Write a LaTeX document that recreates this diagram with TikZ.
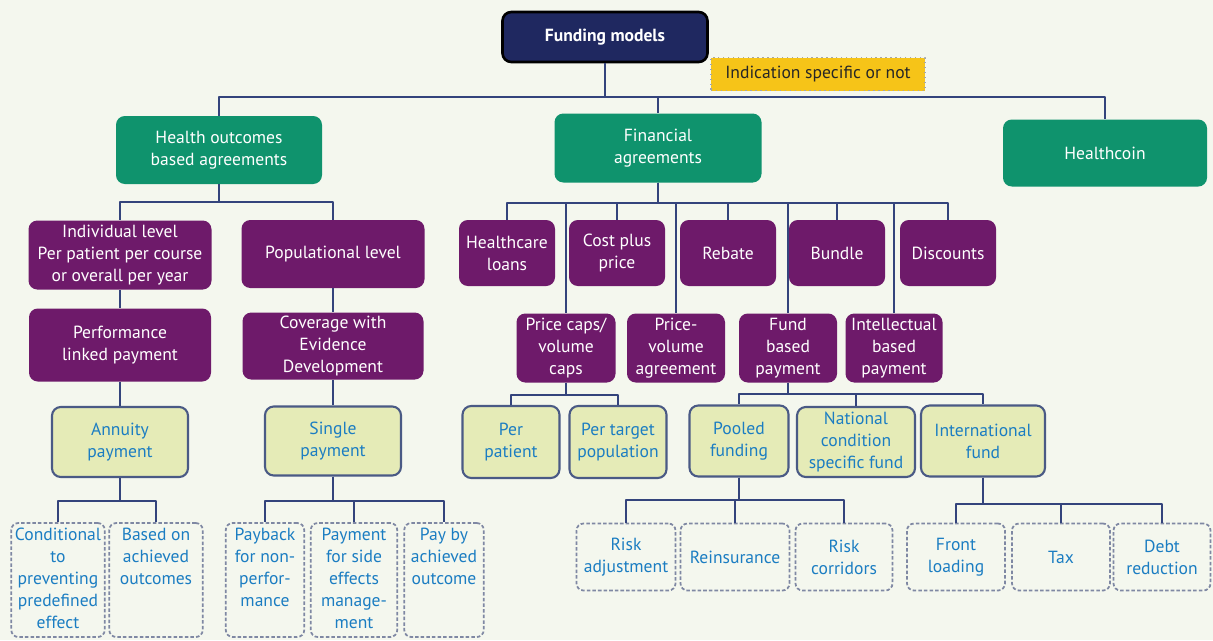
\documentclass[tikz,border=0pt]{standalone}
\usepackage{fontspec}
\setmainfont{PT Sans}
\definecolor{bgcol}{RGB}{244,247,238}
\definecolor{navy}{RGB}{31,40,96}
\definecolor{linkcol}{RGB}{52,68,124}
\definecolor{greenbox}{RGB}{15,147,109}
\definecolor{purplebox}{RGB}{110,26,106}
\definecolor{payfill}{RGB}{229,235,183}
\definecolor{payline}{RGB}{74,90,133}
\definecolor{bluetext}{RGB}{27,125,194}
\definecolor{leafline}{RGB}{127,136,163}
\definecolor{notefill}{RGB}{246,196,24}
\newcommand{\toptxt}[2]{\parbox[c][2.08cm][t]{#1}{\centering #2}}
\tikzset{
	box/.style={rounded corners=5pt, align=center, inner sep=2pt},
	boxsize/.style 2 args={minimum width=#1*0.02cm, minimum height=#2*0.02cm},
	fundbox/.style={box, fill=navy, draw=black, line width=1.5pt, text=white, font=\bfseries},
	notebox/.style={fill=notefill, draw=gray!70, dotted, line width=0.8pt, text=black!85, inner sep=2pt},
	groupbox/.style={box, fill=greenbox, text=white},
	typebox/.style={box, fill=purplebox, text=white},
	paybox/.style={box, fill=payfill, draw=payline, line width=1.2pt, text=bluetext},
	leafbox/.style={box, rounded corners=4pt, draw=leafline, line width=1pt, dash pattern=on 2pt off 1.2pt, text=bluetext, inner sep=1pt},
	link/.style={draw=linkcol, line width=1.2pt}
}
\begin{document}
\begin{tikzpicture}[x=0.02cm, y=-0.02cm, font=\fontsize{10}{12.5}\selectfont, line join=round]
	\fill[bgcol] (0,0) rectangle (1213,640);
	\useasboundingbox (0,0) rectangle (1213,640);
	% top
	\node[fundbox, boxsize={205}{50}] (fund) at (605,37) {Funding models};
	\node[notebox, boxsize={214}{33}] (note) at (818,74) {Indication specific or not};
	\node[groupbox, boxsize={206}{68}] (health) at (219,150) {Health outcomes\\based agreements};
	\node[groupbox, boxsize={207}{69}] (fin) at (658,148) {Financial\\agreements};
	\node[groupbox, boxsize={204}{67}] (coin) at (1105,153) {Healthcoin};
	% health outcomes branch
	\node[typebox, boxsize={183}{69}] (indiv) at (120,255) {Individual level\\Per patient per course\\or overall per year};
	\node[typebox, boxsize={183}{68}] (popul) at (333,254) {Populational level};
	\node[typebox, boxsize={182}{73}] (perf) at (120,345) {Performance\\linked payment};
	\node[typebox, boxsize={181}{67}] (cov) at (333,346) {Coverage with\\Evidence\\Development};
	\node[paybox, boxsize={136}{70}] (annuity) at (120,442) {Annuity\\payment};
	\node[paybox, boxsize={136}{69}] (single) at (333,441) {Single\\payment};
	\node[leafbox, boxsize={93}{114}] (cond) at (58,580) {\toptxt{1.8cm}{Conditional\\to\\preventing\\predefined\\effect}};
	\node[leafbox, boxsize={93}{114}] (based) at (156,580) {\toptxt{1.8cm}{Based on\\achieved\\outcomes}};
	\node[leafbox, boxsize={78}{114}] (payback) at (265,580) {\toptxt{1.5cm}{Payback\\for non-\\perfor-\\mance}};
	\node[leafbox, boxsize={86}{114}] (sidefx) at (354,580) {\toptxt{1.66cm}{Payment\\for side\\effects\\manage-\\ment}};
	\node[leafbox, boxsize={79}{114}] (payby) at (444,580) {\toptxt{1.52cm}{Pay by\\achieved\\outcome}};
	% financial branch
	\node[typebox, boxsize={96}{66}] (loans) at (507,253) {Healthcare\\loans};
	\node[typebox, boxsize={96}{66}] (costplus) at (617,253) {Cost plus\\price};
	\node[typebox, boxsize={96}{66}] (rebate) at (728,253) {Rebate};
	\node[typebox, boxsize={96}{66}] (bundle) at (837,253) {Bundle};
	\node[typebox, boxsize={96}{66}] (discount) at (948,253) {Discounts};
	\node[typebox, boxsize={99}{69}] (pricecap) at (566,348) {Price caps/\\volume\\caps};
	\node[typebox, boxsize={98}{69}] (pricevol) at (676,348) {Price-\\volume\\agreement};
	\node[typebox, boxsize={98}{69}] (fundpay) at (788,348) {Fund\\based\\payment};
	\node[typebox, boxsize={97}{69}] (intel) at (894,348) {Intellectual\\based\\payment};
	\node[paybox, boxsize={97}{72}] (perpat) at (511,442) {Per\\patient};
	\node[paybox, boxsize={97}{72}] (pertarget) at (618,442) {Per target\\population};
	\node[paybox, boxsize={99}{71}] (pooled) at (739,441) {Pooled\\funding};
	\node[paybox, boxsize={118}{70}] (national) at (856,442) {National\\condition\\specific fund};
	\node[paybox, boxsize={124}{71}] (intl) at (983,441) {International\\fund};
	\node[leafbox, boxsize={99}{67}] (riskadj) at (626,557) {Risk\\adjustment};
	\node[leafbox, boxsize={109}{67}] (reins) at (735,557) {Reinsurance};
	\node[leafbox, boxsize={97}{67}] (corridor) at (844,557) {Risk\\corridors};
	\node[leafbox, boxsize={98}{67}] (front) at (956,557) {Front\\loading};
	\node[leafbox, boxsize={98}{67}] (tax) at (1061,557) {Tax};
	\node[leafbox, boxsize={97}{67}] (debt) at (1162,557) {Debt\\reduction};
	% connectors
	\foreach \c in {health,fin,coin}
	\draw[link] (fund.south) -- ++(0,34) -| (\c.north);
	\foreach \c in {indiv,popul}
	\draw[link] (health.south) -- ++(0,18) -| (\c.north);
	\draw[link] (indiv) -- (perf);
	\draw[link] (perf) -- (annuity);
	\draw[link] (popul) -- (cov);
	\draw[link] (cov) -- (single);
	\foreach \c in {cond,based}
	\draw[link] (annuity.south) -- ++(0,23) -| (\c.north);
	\foreach \c in {payback,sidefx,payby}
	\draw[link] (single.south) -- ++(0,24) -| (\c.north);
	\foreach \c in {loans,pricecap,costplus,pricevol,rebate,fundpay,bundle,intel,discount}
	\draw[link] (fin.south) -- ++(0,20) -| (\c.north);
	\foreach \c in {perpat,pertarget}
	\draw[link] (pricecap.south) -- ++(0,12) -| (\c.north);
	\foreach \c in {pooled,national,intl}
	\draw[link] (fundpay.south) -- ++(0,11) -| (\c.north);
	\foreach \c in {riskadj,reins,corridor}
	\draw[link] (pooled.south) -- ++(0,22) -| (\c.north);
	\foreach \c in {front,tax,debt}
	\draw[link] (intl.south) -- ++(0,26) -| (\c.north);
\end{tikzpicture}
\end{document}
